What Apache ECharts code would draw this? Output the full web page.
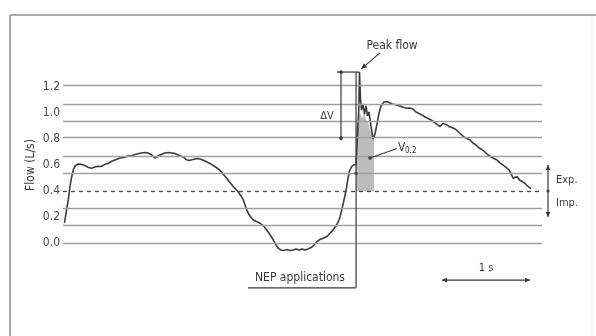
<!DOCTYPE html>
<html>
<head>
<meta charset="utf-8">
<script src="https://cdn.jsdelivr.net/npm/echarts@6/dist/echarts.min.js"></script>
<style>
  html, body { margin: 0; padding: 0; background: #fff; }
  #chart { width: 596px; height: 336px; }
</style>
</head>
<body>
<div id="chart"></div>
<script>
// Flow trace: time since start of recording (s) and flow (L/s)
const flowTime = [
  0.017,0.040,0.060,0.080,0.099,0.119,0.142,0.176,0.216,0.250,
  0.290,0.326,0.364,0.398,0.432,0.477,0.511,0.553,0.591,0.648,
  0.693,0.739,0.784,0.838,0.886,0.932,0.966,1.000,1.045,1.080,
  1.122,1.159,1.197,1.239,1.273,1.318,1.367,1.398,1.432,1.477,
  1.523,1.557,1.602,1.636,1.670,1.716,1.750,1.784,1.824,1.860,
  1.898,1.935,1.966,1.992,2.023,2.049,2.068,2.088,2.114,2.136,
  2.163,2.199,2.239,2.278,2.315,2.352,2.390,2.420,2.447,2.477,
  2.511,2.545,2.580,2.614,2.648,2.682,2.716,2.750,2.784,2.826,
  2.858,2.883,2.920,2.958,3.000,3.034,3.068,3.110,3.131,3.148,
  3.167,3.185,3.205,3.224,3.239,3.256,3.278,3.301,3.330,3.352,
  3.361,3.369,3.381,3.392,3.409,3.426,3.443,3.460,3.477,3.500,
  3.523,3.545,3.568,3.591,3.614,3.648,3.678,3.705,3.739,3.773,
  3.807,3.841,3.875,3.909,3.943,3.977,4.011,4.045,4.080,4.114,
  4.148,4.182,4.216,4.250,4.284,4.318,4.352,4.386,4.420,4.455,
  4.489,4.523,4.557,4.591,4.625,4.659,4.693,4.727,4.761,4.795,
  4.830,4.864,4.898,4.932,4.966,5.000,5.034,5.068,5.091,5.117,
  5.136,5.159,5.188,5.216,5.244,5.273,5.301,5.318
];
const flowValue = [
  0.154,0.254,0.331,0.438,0.510,0.569,0.596,0.608,0.604,0.595,
  0.581,0.575,0.585,0.591,0.588,0.605,0.612,0.629,0.638,0.654,
  0.658,0.669,0.673,0.685,0.692,0.696,0.692,0.681,0.654,0.669,
  0.682,0.692,0.696,0.692,0.688,0.673,0.662,0.642,0.635,0.642,
  0.650,0.646,0.635,0.623,0.612,0.592,0.577,0.558,0.527,0.498,
  0.465,0.433,0.412,0.392,0.362,0.331,0.292,0.254,0.219,0.196,
  0.177,0.165,0.152,0.131,0.100,0.065,0.023,-0.015,-0.041,-0.054,
  -0.058,-0.050,-0.058,-0.054,-0.046,-0.054,-0.046,-0.054,-0.046,-0.033,
  -0.012,0.010,0.027,0.036,0.050,0.075,0.100,0.138,0.169,0.202,
  0.254,0.305,0.369,0.433,0.500,0.554,0.585,0.600,0.604,0.612,
  1.023,1.315,1.100,1.023,1.069,0.992,1.054,0.977,1.008,0.900,
  0.800,0.838,0.915,1.000,1.054,1.085,1.088,1.081,1.069,1.065,
  1.058,1.050,1.042,1.036,1.038,1.031,1.008,0.996,0.985,0.969,
  0.958,0.946,0.931,0.912,0.896,0.919,0.912,0.896,0.888,0.877,
  0.858,0.835,0.815,0.804,0.792,0.769,0.754,0.731,0.719,0.700,
  0.677,0.662,0.650,0.638,0.615,0.600,0.581,0.562,0.531,0.498,
  0.508,0.512,0.485,0.473,0.462,0.442,0.427,0.419
];

// Volume expired in the first 0.2 s after the negative pressure is applied
const shadeTime = [3.330,3.352,3.375,3.398,3.420,3.443,3.466,3.489,3.511,3.535];
const shadeTop  = [0.880,0.960,1.000,0.960,1.000,0.940,0.930,0.870,0.840,0.800];

// Horizontal reference levels (L/s); the dashed one separates expiration / inspiration
const gridLevels = [0, 0.135, 0.27, 0.535, 0.67, 0.805, 0.94, 1.075, 1.21];
const zeroFlowLevel = 0.4;

// Event markers
const nepTime = 3.330;          // NEP application (s)
const dvBottom = 0.805;         // lower end of the ΔV bracket (L/s)
const scaleBarStart = 4.307;    // start of the 1 s time bar
const scaleBarLength = 1;       // s

const FONT = '"Liberation Sans Narrow","DejaVu Sans Condensed",sans-serif';
const INK = '#3a3a3a';

const chart = echarts.init(document.getElementById('chart'), null, { renderer: 'canvas' });

const flowData = flowTime.map((t, i) => [t, flowValue[i]]);
const shadeData = shadeTime.map((t, i) => [t, shadeTop[i]]);

chart.setOption({
  animation: false,
  backgroundColor: '#ffffff',
  grid: { left: 63, right: 54, top: 61, bottom: 67 },
  xAxis: { type: 'value', min: 0, max: 5.443, show: false },
  yAxis: {
    type: 'value', min: -0.2, max: 1.4, interval: 0.2,
    name: 'Flow (L/s)', nameLocation: 'middle', nameRotate: 90, nameGap: 26,
    nameMoveOverlap: false,
    nameTextStyle: { fontFamily: FONT, fontSize: 12, color: INK },
    axisLine: { show: false }, axisTick: { show: false }, splitLine: { show: false },
    axisLabel: {
      margin: 3, fontFamily: FONT, fontSize: 12, color: '#4a4a4a',
      formatter: v => (v < -0.01 || v > 1.25) ? '' : v.toFixed(1)
    }
  },
  series: [
    {
      // reference levels
      type: 'line', data: [], symbol: 'none', z: 1, silent: true,
      markLine: {
        silent: true, symbol: 'none', animation: false,
        label: { show: false },
        lineStyle: { color: '#a0a0a0', width: 1.4, type: 'solid' },
        data: gridLevels.map(v => ({ yAxis: v })).concat([
          { yAxis: zeroFlowLevel, lineStyle: { color: '#4a4a4a', width: 1.3, type: [4, 4] } }
        ])
      }
    },
    {
      // V0.2 shaded area
      type: 'line', data: shadeData, symbol: 'none', z: 2, silent: true,
      lineStyle: { width: 0 },
      areaStyle: { color: '#bdbdbd', opacity: 1, origin: zeroFlowLevel }
    },
    {
      // flow trace
      type: 'line', data: flowData, symbol: 'none', z: 3, silent: true,
      lineStyle: { color: '#3c3c3c', width: 1.6 }
    }
  ]
});

// Annotations anchored in data coordinates
const P = (t, f) => chart.convertToPixel({ gridIndex: 0 }, [t, f]);
const seg = (a, b, w, c) => ({ type: 'line', silent: true, z: 10,
  shape: { x1: a[0], y1: a[1], x2: b[0], y2: b[1] },
  style: { stroke: c || INK, lineWidth: w || 1.2 } });
const dot = (p, r) => ({ type: 'circle', silent: true, z: 11,
  shape: { cx: p[0], cy: p[1], r: r || 1.8 }, style: { fill: INK } });
const head = (tip, from, len, half) => {
  const dx = tip[0] - from[0], dy = tip[1] - from[1];
  const d = Math.hypot(dx, dy), ux = dx / d, uy = dy / d;
  const bx = tip[0] - ux * len, by = tip[1] - uy * len;
  return { type: 'polygon', silent: true, z: 11,
    shape: { points: [tip, [bx - uy * half, by + ux * half], [bx + uy * half, by - ux * half]] },
    style: { fill: INK } };
};
const label = (p, s, size, align) => ({ type: 'text', silent: true, z: 12, x: p[0], y: p[1],
  style: { text: s, fontFamily: FONT, fontSize: size || 11, fill: INK,
    align: align || 'center', verticalAlign: 'middle' } });

const peakIdx = flowValue.indexOf(Math.max(...flowValue));
const peakT = flowTime[peakIdx], peakF = flowValue[peakIdx];

const g = [];
// outer frame
g.push({ type: 'line', silent: true, shape: { x1: 10, y1: 15, x2: 596, y2: 15 }, style: { stroke: '#aaaaaa', lineWidth: 2 } });
g.push({ type: 'line', silent: true, shape: { x1: 10, y1: 15, x2: 10, y2: 336 }, style: { stroke: '#aaaaaa', lineWidth: 2 } });
g.push({ type: 'line', silent: true, shape: { x1: 592, y1: 16, x2: 592, y2: 336 }, style: { stroke: '#ececec', lineWidth: 1 } });

// NEP application marker with its label
const nepTop = P(nepTime, peakF), nepBottom = P(nepTime, -0.345);
g.push(seg(nepTop, nepBottom, 1.2));
g.push(seg(P(2.102, -0.345), nepBottom, 1.2));
g.push(label(P(2.693, -0.27), 'NEP applications', 12));
g.push(dot(P(nepTime, 0.535), 1.6));

// ΔV bracket
const dvX = 3.159;
g.push(seg(P(3.114, peakF), P(peakT, peakF), 1.2));
g.push(seg(P(dvX, peakF), P(dvX, dvBottom), 1.2));
g.push(dot(P(dvX, peakF)), dot(P(dvX, dvBottom)));
g.push(label(P(3.0, 0.977), 'ΔV', 11));

// Peak flow callout
const pfFrom = P(3.602, 1.462), pfTo = P(3.386, 1.338);
g.push(seg(pfFrom, pfTo, 1.1));
g.push(head(pfTo, pfFrom, 6, 2.6));
g.push(label(P(3.739, 1.515), 'Peak flow', 12));

// V0.2 callout
const vFrom = P(3.795, 0.727), vTo = P(3.489, 0.654);
g.push(seg(vFrom, vTo, 1.1));
g.push(dot(vTo, 1.8));
const vPos = P(3.807, 0.731);
g.push(label([vPos[0], vPos[1]], 'V', 12, 'left'));
g.push(label([vPos[0] + 7, vPos[1] + 3], '0.2', 8, 'left'));

// 1 s time bar
const sbA = P(scaleBarStart, -0.285), sbB = P(scaleBarStart + scaleBarLength, -0.285);
g.push(seg(sbA, sbB, 1.2));
g.push(head(sbA, sbB, 5, 2.4), head(sbB, sbA, 5, 2.4));
g.push(label(P(scaleBarStart + scaleBarLength / 2, -0.192), '1 s', 11));

// Expiration / inspiration indicator
const eiX = 5.511;
const eTop = P(eiX, zeroFlowLevel + 0.2), eBot = P(eiX, zeroFlowLevel - 0.2);
g.push(seg(eTop, eBot, 1.2));
g.push(head(eTop, eBot, 5, 2.4), head(eBot, eTop, 5, 2.4));
g.push(dot(P(eiX, zeroFlowLevel), 1.6));
g.push(label(P(5.602, 0.485), 'Exp.', 11, 'left'));
g.push(label(P(5.602, 0.308), 'Imp.', 11, 'left'));

chart.setOption({ graphic: { elements: g } });
</script>
</body>
</html>
